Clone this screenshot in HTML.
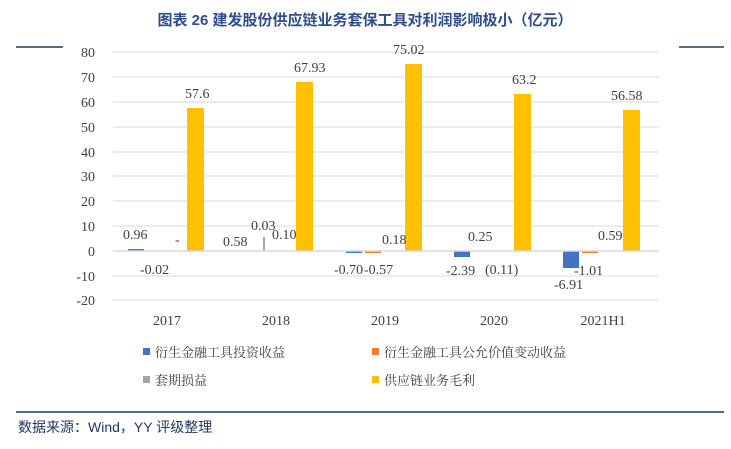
<!DOCTYPE html><html><head><meta charset="utf-8"><style>body{margin:0;background:#fff;width:731px;height:444px;overflow:hidden}</style></head><body>
<svg width="731" height="444" xmlns="http://www.w3.org/2000/svg" font-family="Liberation Serif, serif" font-size="14" fill="#404040">
<text x="365" y="25" text-anchor="middle" font-family="Liberation Sans, Noto Sans CJK SC, sans-serif" font-weight="bold" font-size="15" fill="#2F4D8A">图表 26 建发股份供应链业务套保工具对利润影响极小（亿元）</text>
<line x1="16" y1="47" x2="63" y2="47" stroke="#1F3864" stroke-width="1.5"/>
<line x1="679" y1="47" x2="724" y2="47" stroke="#1F3864" stroke-width="1.5"/>
<g stroke="#d9d9d9" stroke-width="1">
<line x1="113" x2="659" y1="52" y2="52"/><line x1="113" x2="659" y1="77" y2="77"/><line x1="113" x2="659" y1="102" y2="102"/><line x1="113" x2="659" y1="127" y2="127"/><line x1="113" x2="659" y1="152" y2="152"/><line x1="113" x2="659" y1="176" y2="176"/><line x1="113" x2="659" y1="201" y2="201"/><line x1="113" x2="659" y1="226" y2="226"/><line x1="113" x2="659" y1="276" y2="276"/><line x1="113" x2="659" y1="300" y2="300"/>
</g>
<g text-anchor="end"><text x="95" y="57">80</text><text x="95" y="82">70</text><text x="95" y="107">60</text><text x="95" y="132">50</text><text x="95" y="157">40</text><text x="95" y="181">30</text><text x="95" y="206">20</text><text x="95" y="231">10</text><text x="95" y="256">0</text><text x="95" y="281">-10</text><text x="95" y="305">-20</text></g>
<g fill="#FFC000">
<rect x="187" y="108" width="17" height="143"/>
<rect x="296" y="82" width="17" height="169"/>
<rect x="405" y="64" width="17" height="187"/>
<rect x="514" y="94" width="17" height="157"/>
<rect x="623" y="110" width="17" height="141"/>
</g>
<g fill="#4472C4">
<rect x="128" y="249" width="16" height="2"/>
<rect x="346" y="251" width="16" height="2"/>
<rect x="454" y="251" width="16" height="6"/>
<rect x="563" y="251" width="16" height="17"/>
</g>
<g fill="#ED7D31">
<rect x="365" y="251" width="16" height="2"/>
<rect x="582" y="251" width="16" height="2"/>
</g>
<rect x="263" y="237" width="2" height="14" fill="#A5A5A5"/>
<line x1="113" x2="659" y1="251" y2="251" stroke="#d9d9d9" stroke-width="1.5"/>
<text x="123" y="239">0.96</text><text x="175" y="244">-</text><text x="140" y="274">-0.02</text><text x="185" y="98">57.6</text>
<text x="223" y="246">0.58</text><text x="251" y="230">0.03</text><text x="272" y="239">0.10</text><text x="294" y="72">67.93</text>
<text x="334" y="274">-0.70</text><text x="364" y="274">-0.57</text><text x="382" y="244">0.18</text><text x="393" y="54">75.02</text>
<text x="468" y="241">0.25</text><text x="446" y="275">-2.39</text><text x="485" y="274">(0.11)</text><text x="512" y="84">63.2</text>
<text x="554" y="289">-6.91</text><text x="574" y="275">-1.01</text><text x="598" y="240">0.59</text><text x="611" y="100">56.58</text>
<g text-anchor="middle"><text x="167" y="325">2017</text><text x="276" y="325">2018</text><text x="385" y="325">2019</text><text x="494" y="325">2020</text><text x="603" y="325">2021H1</text></g>
<g font-family="Liberation Serif, Noto Serif CJK SC, serif" font-size="13">
<rect x="143" y="348" width="7" height="7" fill="#4472C4"/><text x="155" y="357">衍生金融工具投资收益</text>
<rect x="372" y="348" width="7" height="7" fill="#ED7D31"/><text x="384" y="357">衍生金融工具公允价值变动收益</text>
<rect x="143" y="376" width="7" height="7" fill="#A5A5A5"/><text x="155" y="385">套期损益</text>
<rect x="372" y="376" width="7" height="7" fill="#FFC000"/><text x="384" y="385">供应链业务毛利</text>
</g>
<line x1="16" y1="412" x2="724" y2="412" stroke="#1F3864" stroke-width="1.5"/>
<text x="18" y="432" font-family="Liberation Sans, Noto Sans CJK SC, sans-serif" font-size="14" fill="#1F3864">数据来源：Wind，YY 评级整理</text>
</svg></body></html>
